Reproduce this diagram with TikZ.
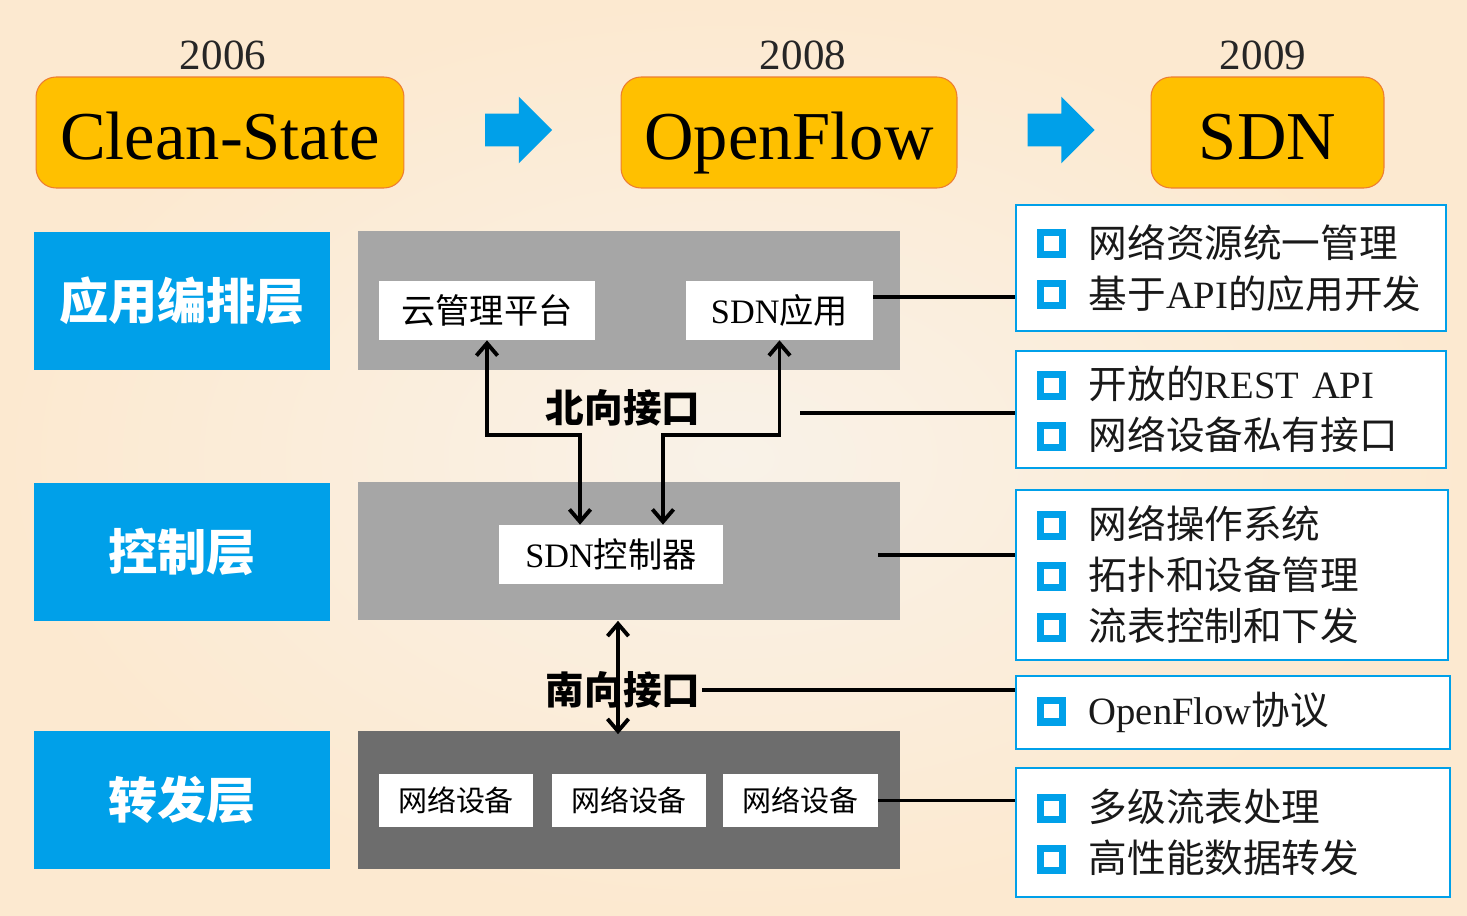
\documentclass[tikz,border=0pt]{standalone}
\usepackage{fontspec}
\setmainfont{Liberation Serif}
\newfontfamily\cjk{Noto Sans CJK SC}
\usepackage{tikz}
\usetikzlibrary{shapes.arrows, arrows.meta, positioning, calc}

\definecolor{sdnblue}{RGB}{0,160,233}
\definecolor{stagefill}{RGB}{255,192,0}
\definecolor{stageline}{RGB}{237,125,49}
\definecolor{panellight}{RGB}{166,166,166}
\definecolor{paneldark}{RGB}{109,109,109}
\definecolor{creamin}{RGB}{249,242,232}
\definecolor{creamout}{RGB}{252,233,208}

% hollow blue square in front of each point
\newcommand\bul{\raisebox{3.5pt}{\setlength\fboxrule{4pt}\setlength\fboxsep{0pt}\fcolorbox{sdnblue}{white}{\rule{0pt}{8.4pt}\hspace{8.4pt}}}\hspace{13pt}}

\begin{document}
\begin{tikzpicture}[x=0.02cm, y=-0.02cm,
    stage/.style={draw=stageline, line width=0.6pt, fill=stagefill, rounded corners=0.4cm, minimum height=2.22cm, inner sep=0pt, text height=1.1cm, text depth=0cm, font=\fontsize{39}{39}\selectfont},
    year/.style={text=black!85, font=\fontsize{24.5}{25}\selectfont},
    bluearrow/.style={single arrow, fill=sdnblue, draw=none, inner xsep=0pt, inner ysep=0.32cm, minimum height=1.34cm, single arrow head extend=0.34cm},
    layer/.style={fill=sdnblue, minimum width=5.92cm, minimum height=2.76cm, text=white, font=\cjk\bfseries\fontsize{28}{28}\selectfont},
    panel/.style={minimum width=10.84cm, minimum height=2.78cm, inner sep=0pt},
    unit/.style={fill=white, inner sep=0pt, minimum height=1.18cm, font=\fontsize{19.5}{20}\selectfont},
    device/.style={fill=white, inner sep=0pt, minimum width=3.08cm, minimum height=1.06cm, font=\cjk\fontsize{16.5}{17}\selectfont},
    iface/.style={inner sep=1pt, font=\cjk\bfseries\fontsize{22}{22}\selectfont},
    infobox/.style={draw=sdnblue, line width=1.4pt, fill=white, text width=#1, inner xsep=0.42cm, align=left, text=black!90, font=\fontsize{22}{29}\selectfont},
    biarrow/.style={{Straight Barb[length=7pt,width=12pt]}-{Straight Barb[length=7pt,width=12pt]}, line width=2.2pt},
    link/.style={line width=2pt}
]
    \shade[inner color=creamin, outer color=creamout] (0,0) rectangle (1467,916);
    \useasboundingbox (0,0) rectangle (1467,916);

    % timeline
    \node[year] (y2006) at (223,55) {2006};
    \node[year] (y2008) at (803,55) {2008};
    \node[year] (y2009) at (1263,55) {2009};
    \node[stage, minimum width=7.36cm] (clean) at (220,132.5) {Clean-State};
    \node[stage, minimum width=6.72cm] (of) at (789,132.5) {OpenFlow};
    \node[stage, minimum width=4.66cm] (sdn) at (1267.5,132.5) {SDN};
    \node[bluearrow] (arrA) at (510.5,130) {};
    \node[bluearrow] (arrB) at (1053,130) {};

    % layers
    \node[layer] (app) at (182,301) {应用编排层};
    \node[layer] (ctl) at (182,552) {控制层};
    \node[layer] (fwd) at (182,800) {转发层};

    \node[panel, fill=panellight] (panelA) at (629,300.5) {};
    \node[panel, fill=panellight] (panelB) at (629,551) {};
    \node[panel, fill=paneldark] (panelC) at (629,800) {};

    \node[unit, minimum width=4.32cm, font=\cjk\fontsize{19.5}{20}\selectfont] (cloud) at (487,310.5) {云管理平台};
    \node[unit, minimum width=3.74cm] (sdnapp) at (779.5,310.5) {SDN{\cjk 应用}};
    \node[unit, minimum width=4.48cm] (ctrl) at (611,554.5) {SDN{\cjk 控制器}};
    \node[device] (dev1) at (456,800.5) {网络设备};
    \node[device] (dev2) at (629,800.5) {网络设备};
    \node[device, minimum width=3.1cm] (dev3) at (800.5,800.5) {网络设备};

    % interfaces
    \draw[biarrow] (cloud.south) -- ++(0,95) -| ([xshift=-0.62cm]ctrl.north);
    \draw[biarrow] (sdnapp.south) -- ++(0,95) -| ([xshift=1.04cm]ctrl.north);
    \node[iface] (north) at (623,408) {北向接口};
    \draw[biarrow] ([xshift=-0.22cm]panelB.south) -- ([xshift=-0.22cm, yshift=-0.08cm]panelC.north);
    \node[iface] (south) at (623,690) {南向接口};

    % feature boxes
    \node[infobox=7.76cm, minimum height=2.52cm] (box1) at (1231,268) {\bul{\cjk 网络资源统一管理}\\ \bul{\cjk 基于}API{\cjk 的应用开发}};
    \node[infobox=7.76cm, minimum height=2.34cm] (box2) at (1231,409.5) {\bul{\cjk 开放的}REST API\\ \bul{\cjk 网络设备私有接口}};
    \node[infobox=7.8cm, minimum height=3.4cm] (box3) at (1232,575) {\bul{\cjk 网络操作系统}\\ \bul{\cjk 拓扑和设备管理}\\ \bul{\cjk 流表控制和下发}};
    \node[infobox=7.84cm, minimum height=1.46cm] (box4) at (1233,712.5) {\bul OpenFlow{\cjk 协议}};
    \node[infobox=7.84cm, minimum height=2.58cm] (box5) at (1233,832.5) {\bul{\cjk 多级流表处理}\\ \bul{\cjk 高性能数据转发}};

    \coordinate (appout) at ([yshift=0.27cm]sdnapp.east);
    \coordinate (nbout) at (800,413);
    \coordinate (ctrlout) at (878,555);
    \draw[link] (appout) -- (appout -| box1.west);
    \draw[link] (nbout) -- (nbout -| box2.west);
    \draw[link] (ctrlout) -- (ctrlout -| box3.west);
    \draw[link] (south.east) -- (south.east -| box4.west);
    \draw[link] (dev3.east) -- (dev3.east -| box5.west);
\end{tikzpicture}
\end{document}
